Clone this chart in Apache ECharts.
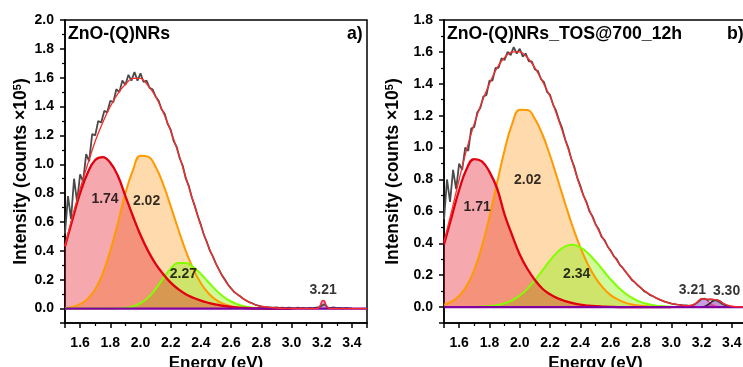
<!DOCTYPE html>
<html><head><meta charset="utf-8">
<script src="https://cdn.jsdelivr.net/npm/echarts@6/dist/echarts.min.js"></script>
<style>html,body{margin:0;padding:0;background:#fff}#c{width:743px;height:367px}</style>
</head><body><div id="c"></div>
<script>
// ---------- DATA ----------
// coarse energy grid for fitted components (eV)
const energyCoarse = [1.50,1.55,1.60,1.65,1.70,1.75,1.80,1.85,1.90,1.95,
  2.00,2.05,2.10,2.15,2.20,2.25,2.30,2.35,2.40,2.45,
  2.50,2.55,2.60,2.65,2.70,2.75,2.80,2.85,2.90,2.95,3.00];
// fine energy grid for measured spectra (eV)
const energyFine = [1.50,1.52,1.54,1.56,1.58,1.60,1.62,1.64,1.66,1.68,
  1.70,1.72,1.74,1.76,1.78,1.80,1.82,1.84,1.86,1.88,
  1.90,1.92,1.94,1.96,1.98,2.00,2.02,2.04,2.06,2.08,
  2.10,2.12,2.14,2.16,2.18,2.20,2.22,2.24,2.26,2.28,
  2.30,2.32,2.34,2.36,2.38,2.40,2.42,2.44,2.46,2.48,
  2.50,2.52,2.54,2.56,2.58,2.60,2.62,2.64,2.66,2.68,
  2.70,2.72,2.74,2.76,2.78,2.80,2.82,2.84,2.86,2.88,
  2.90,2.92,2.94,2.96,2.98,3.00,3.02,3.04,3.06,3.08,
  3.10,3.12,3.14,3.16,3.18,3.20,3.22,3.24,3.26,3.28,
  3.30,3.32,3.34,3.36,3.38,3.40];

// ---- panel a) ZnO-(Q)NRs ----
const measuredA = [0.52,0.78,0.62,0.90,0.74,0.93,0.88,1.07,1.02,1.21,
  1.20,1.30,1.29,1.37,1.36,1.44,1.43,1.52,1.50,1.58,
  1.55,1.62,1.58,1.64,1.58,1.63,1.57,1.58,1.53,1.52,
  1.47,1.44,1.38,1.35,1.28,1.24,1.16,1.12,1.04,0.99,
  0.90,0.85,0.77,0.71,0.64,0.58,0.51,0.46,0.40,0.36,
  0.31,0.27,0.23,0.20,0.165,0.14,0.115,0.10,0.085,0.068,
  0.056,0.044,0.037,0.026,0.021,0.015,0.012,0.010,0.008,0.006,
  0.009,0.004,0.006,0.003,0.007,0.004,0.002,0.006,0.003,0.005,
  0.002,0.004,0.003,0.006,0.008,0.020,0.030,0.006,0.004,0.008,
  0.003,0.004,0.002,0.005,0.003,0.002];
const peakA174 = [0.43,0.62,0.80,0.94,1.03,1.05,1.01,0.92,0.78,0.64,
  0.51,0.40,0.31,0.24,0.18,0.135,0.10,0.075,0.055,0.04,
  0.028,0.018,0.011,0.007,0.004,0.002,0.001,0,0,0,0];
const peakA202 = [0.004,0.011,0.03,0.067,0.134,0.243,0.40,0.59,0.80,0.96,
  1.06,1.053,0.983,0.862,0.71,0.55,0.40,0.273,0.175,0.106,
  0.06,0.032,0.016,0.0075,0.003,0.001,0,0,0,0,0];
const peakA227 = [0,0,0,0,0,0,0,0.001,0.005,0.015,
  0.037,0.076,0.136,0.209,0.277,0.316,0.315,0.286,0.239,0.183,
  0.128,0.082,0.049,0.026,0.013,0.006,0.003,0.001,0,0,0];
const peakA321x = [3.17,3.19,3.205,3.215,3.23,3.25];
const peakA321y = [0,0.02,0.055,0.055,0.02,0];
const fitAx = [1.50,1.55,1.60,1.65,1.70,1.75,1.80,1.85,1.90,1.95,
  2.00,2.05,2.10,2.15,2.20,2.25,2.30,2.35,2.40,2.45,
  2.50,2.55,2.60,2.65,2.70,2.75,2.80,2.85,2.90,2.95,3.00,
  3.10,3.17,3.19,3.205,3.215,3.23,3.25,3.35,3.50];
const fitAy = [0.435,0.64,0.83,1.00,1.16,1.29,1.40,1.49,1.555,1.595,
  1.595,1.545,1.47,1.36,1.23,1.08,0.91,0.74,0.575,0.43,
  0.31,0.21,0.14,0.09,0.055,0.03,0.016,0.008,0.004,0.002,0.001,
  0,0,0.02,0.055,0.055,0.02,0,0,0];
const labelsA = ['1.74','2.02','2.27','3.21'];
const labelsAx = [1.765,2.04,2.284,3.21];
const labelsAy = [0.755,0.748,0.238,0.13];

// ---- panel b) ZnO-(Q)NRs_TOS@700_12h ----
const measuredB = [0.55,0.80,0.66,0.86,0.74,0.90,0.86,1.00,0.98,1.12,
  1.13,1.22,1.25,1.32,1.33,1.42,1.42,1.50,1.50,1.56,
  1.55,1.60,1.58,1.63,1.59,1.62,1.57,1.59,1.54,1.54,
  1.49,1.48,1.43,1.41,1.35,1.33,1.27,1.23,1.17,1.12,
  1.05,1.00,0.93,0.88,0.81,0.76,0.70,0.66,0.60,0.57,
  0.52,0.49,0.44,0.42,0.38,0.355,0.32,0.30,0.265,0.245,
  0.22,0.195,0.17,0.155,0.135,0.12,0.10,0.09,0.075,0.068,
  0.057,0.048,0.04,0.033,0.028,0.022,0.019,0.015,0.013,0.01,
  0.01,0.008,0.012,0.02,0.035,0.05,0.052,0.045,0.048,0.045,
  0.04,0.03,0.018,0.01,0.004,0.002];
const peakB171 = [0.393,0.564,0.734,0.867,0.928,0.913,0.848,0.745,0.58,0.45,
  0.33,0.24,0.17,0.115,0.08,0.055,0.037,0.024,0.015,0.009,
  0.005,0.003,0.001,0,0,0,0,0,0,0,0];
const peakB202 = [0.015,0.034,0.07,0.133,0.234,0.379,0.565,0.777,0.984,1.149,
  1.237,1.236,1.18,1.082,0.95,0.801,0.648,0.502,0.374,0.267,
  0.183,0.12,0.075,0.046,0.026,0.014,0.008,0.004,0.002,0.001,0];
const peakB234 = [0,0,0,0,0,0.003,0.006,0.012,0.023,0.042,
  0.072,0.114,0.168,0.23,0.293,0.346,0.381,0.39,0.374,0.338,
  0.288,0.231,0.174,0.124,0.083,0.053,0.031,0.018,0.009,0.005,0.002];
const peakB321x = [3.10,3.125,3.15,3.175,3.20,3.225,3.25,3.275,3.30,3.325,3.35];
const peakB321y = [0,0.004,0.013,0.033,0.052,0.05,0.03,0.012,0.004,0.001,0];
const peakB330x = [3.20,3.225,3.25,3.275,3.30,3.325,3.35,3.375,3.40];
const peakB330y = [0,0.006,0.02,0.038,0.045,0.035,0.017,0.005,0];
const fitBx = [1.50,1.55,1.60,1.65,1.70,1.75,1.80,1.85,1.90,1.95,
  2.00,2.05,2.10,2.15,2.20,2.25,2.30,2.35,2.40,2.45,
  2.50,2.55,2.60,2.65,2.70,2.75,2.80,2.85,2.90,2.95,3.00,3.05,3.10,
  3.15,3.20,3.25,3.30,3.35,3.40,3.45,3.50];
const fitBy = [0.41,0.60,0.80,0.99,1.15,1.285,1.40,1.50,1.565,1.60,
  1.60,1.565,1.50,1.415,1.32,1.19,1.05,0.90,0.75,0.63,
  0.52,0.43,0.35,0.28,0.22,0.165,0.12,0.085,0.058,0.037,0.023,0.014,0.009,
  0.015,0.05,0.05,0.045,0.02,0.005,0.001,0];
const labelsB = ['1.71','2.02','2.34','3.21','3.30'];
const labelsBx = [1.719,2.052,2.376,3.14,3.365];
const labelsBy = [0.625,0.793,0.207,0.105,0.10];

const baselineX = [1.5, 3.5];
const baselineY = [0, 0];

// ---------- CHART ----------
const FONT = '"Liberation Sans", Arial, sans-serif';
const pairs = (xs, ys) => xs.slice(0, Math.min(xs.length, ys.length)).map((x, i) => [x, ys[i]]);

function xAxisCfg(g) {
  return {
    type: 'value', gridIndex: g, min: 1.5, max: 3.5, splitNumber: 10,
    name: 'Energy (eV)', nameLocation: 'middle', nameGap: 32,
    nameTextStyle: {fontSize: 17, fontWeight: 'bold', fontFamily: FONT, color: '#000'},
    axisLine: {show: true, onZero: false, lineStyle: {color: '#000', width: 1.5}},
    axisTick: {show: true, inside: false, length: 5, lineStyle: {color: '#000', width: 1.5}},
    minorTick: {show: true, splitNumber: 2, length: 3, lineStyle: {color: '#000', width: 1.2}},
    splitLine: {show: false}, minorSplitLine: {show: false},
    axisLabel: {margin: 13, fontSize: 14, fontWeight: 'bold', fontFamily: FONT, color: '#000',
      formatter: v => (v < 1.55 || v > 3.45) ? '' : v.toFixed(1)}
  };
}
function yAxisCfg(g, max, gap) {
  return {
    type: 'value', gridIndex: g, min: -0.1, max: max, splitNumber: 10,
    name: 'Intensity (counts \u00d710{s|5})', nameLocation: 'middle', nameGap: gap, nameRotate: 90,
    nameTextStyle: {fontSize: 17.5, fontWeight: 'bold', fontFamily: FONT, color: '#000',
      rich: {s: {fontSize: 11, fontWeight: 'bold', fontFamily: FONT, color: '#000', verticalAlign: 'top', padding: [0, 0, 6, 0]}}},
    axisLine: {show: true, onZero: false, lineStyle: {color: '#000', width: 1.5}},
    axisTick: {show: true, inside: false, length: 5, lineStyle: {color: '#000', width: 1.5}},
    minorTick: {show: true, splitNumber: 2, length: 3, lineStyle: {color: '#000', width: 1.2}},
    splitLine: {show: false}, minorSplitLine: {show: false},
    axisLabel: {margin: 11, fontSize: 14, fontWeight: 'bold', fontFamily: FONT, color: '#000',
      formatter: v => v < -0.05 ? '' : v.toFixed(1)}
  };
}
function area(idx, data, line, fill, lw) {
  return {type: 'line', xAxisIndex: idx, yAxisIndex: idx, data: data, smooth: 0.45, showSymbol: false, symbol: 'none',
    lineStyle: {color: line, width: lw}, areaStyle: {color: fill, origin: 0}, silent: true};
}
function plainLine(idx, data, color, lw, smooth) {
  return {type: 'line', xAxisIndex: idx, yAxisIndex: idx, data: data, smooth: smooth, showSymbol: false, symbol: 'none',
    lineStyle: {color: color, width: lw}, silent: true};
}
function labels(idx, names, xs, ys) {
  return {type: 'scatter', xAxisIndex: idx, yAxisIndex: idx, symbolSize: 0, silent: true, z: 20, zlevel: 1,
    data: names.map((n, i) => ({name: n, value: [xs[i], ys[i]]})),
    label: {show: true, position: 'inside', formatter: '{b}', fontSize: 14, fontWeight: 'bold', fontFamily: FONT, color: '#000'}};
}

const titleStyle = {fontSize: 17.7, fontWeight: 'bold', fontFamily: FONT, color: '#000'};
const option = {
  animation: false,
  backgroundColor: '#fff',
  title: [
    {text: 'ZnO-(Q)NRs', left: 68, top: 25, padding: 0, textStyle: titleStyle},
    {text: 'a)', left: 347, top: 25, padding: 0, textStyle: titleStyle},
    {text: 'ZnO-(Q)NRs_TOS@700_12h', left: 447, top: 25, padding: 0, textStyle: titleStyle},
    {text: 'b)', left: 727, top: 25, padding: 0, textStyle: titleStyle}
  ],
  grid: [
    {left: 65, top: 20, width: 302, height: 303, show: true, borderColor: '#000', borderWidth: 1.5,
      containLabel: false, outerBoundsMode: 'none'},
    {left: 444, top: 20, width: 303, height: 303, show: true, borderColor: '#000', borderWidth: 1.5,
      containLabel: false, outerBoundsMode: 'none'}
  ],
  xAxis: [xAxisCfg(0), xAxisCfg(1)],
  yAxis: [yAxisCfg(0, 2.0, 33), yAxisCfg(1, 1.8, 42)],
  series: [
    area(0, pairs(energyCoarse, peakA202), '#ff9a00', 'rgba(255,150,20,0.5)', 2),
    area(0, pairs(energyCoarse, peakA227), '#80ff00', 'rgba(130,245,0,0.55)', 2),
    area(0, pairs(energyCoarse, peakA174), '#e00010', 'rgba(228,30,45,0.55)', 2.3),
    area(0, pairs(peakA321x, peakA321y), '#ff3c78', 'rgba(140,60,200,0.7)', 1.5),
    plainLine(0, pairs(energyFine, measuredA), '#4a4a4a', 1.8, false),
    plainLine(0, pairs(baselineX, baselineY), '#8000a0', 2.2, false),
    plainLine(0, pairs(fitAx, fitAy), '#ff2a2a', 1.3, 0.3),
    labels(0, labelsA, labelsAx, labelsAy),

    area(1, pairs(energyCoarse, peakB202), '#ff9a00', 'rgba(255,150,20,0.5)', 2),
    area(1, pairs(energyCoarse, peakB234), '#80ff00', 'rgba(130,245,0,0.55)', 2),
    area(1, pairs(energyCoarse, peakB171), '#e00010', 'rgba(228,30,45,0.55)', 2.3),
    area(1, pairs(peakB321x, peakB321y), '#ff3c78', 'rgba(140,60,200,0.7)', 1.5),
    area(1, pairs(peakB330x, peakB330y), '#222', 'rgba(120,40,180,0.7)', 1.5),
    plainLine(1, pairs(energyFine, measuredB), '#4a4a4a', 1.8, false),
    plainLine(1, pairs(baselineX, baselineY), '#8000a0', 2.2, false),
    plainLine(1, pairs(fitBx, fitBy), '#ff2a2a', 1.3, 0.3),
    labels(1, labelsB, labelsBx, labelsBy)
  ]
};
const chart = echarts.init(document.getElementById('c'), null, {renderer: 'canvas'});
chart.setOption(option);
</script></body></html>
